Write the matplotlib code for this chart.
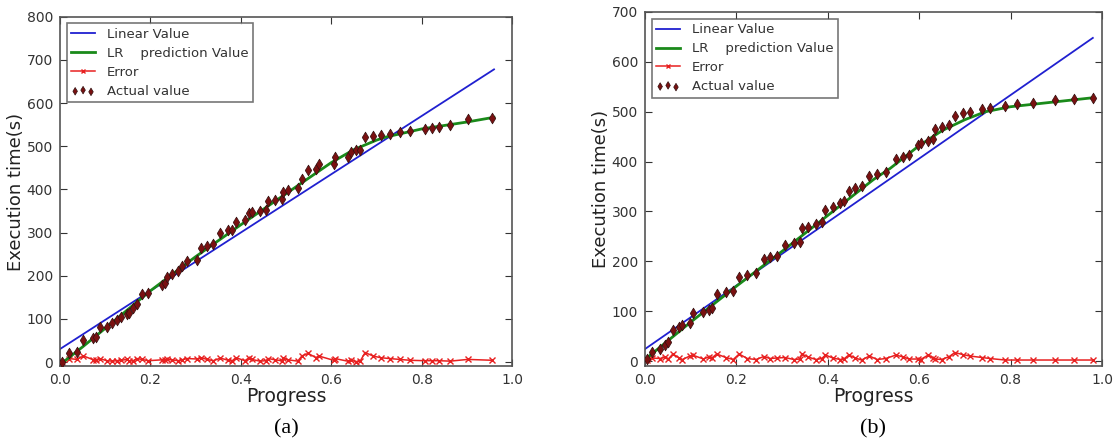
import matplotlib
matplotlib.use("Agg")
import matplotlib.pyplot as plt

# ---- panel (a) ----
a_lin_x = [0.0, 0.96]
a_lin_y = [30, 678]

a_lr_x = [0.01, 0.05, 0.10, 0.20, 0.30, 0.40, 0.50, 0.60, 0.65, 0.70, 0.72, 0.80, 0.90, 0.96]
a_lr_y = [2, 35, 78, 165, 244, 318, 390, 462, 492, 514, 521, 540, 556, 567]

a_act_x = [0.004, 0.020, 0.037, 0.052, 0.074, 0.080, 0.088, 0.103, 0.116, 0.125, 0.136,
           0.148, 0.153, 0.162, 0.170, 0.181, 0.195, 0.225, 0.232, 0.236, 0.247, 0.262,
           0.269, 0.282, 0.302, 0.313, 0.325, 0.339, 0.355, 0.372, 0.380, 0.389, 0.409,
           0.417, 0.424, 0.442, 0.455, 0.461, 0.476, 0.490, 0.493, 0.505, 0.526, 0.535,
           0.549, 0.566, 0.572, 0.605, 0.608, 0.636, 0.644, 0.655, 0.664, 0.675, 0.692,
           0.709, 0.729, 0.751, 0.774, 0.807, 0.822, 0.838, 0.863, 0.902, 0.956]
a_act_y = [1, 20, 24, 52, 55, 58, 80, 82, 91, 97, 105,
           112, 114, 124, 134, 157, 160, 178, 182, 197, 205, 211,
           222, 234, 236, 264, 269, 274, 299, 305, 305, 324, 328,
           345, 347, 351, 353, 373, 376, 378, 393, 399, 403, 424,
           445, 447, 459, 459, 476, 476, 487, 492, 492, 522, 524,
           526, 528, 532, 536, 540, 542, 545, 550, 563, 565]
a_err = [1, 8, 6, 14, 5, 4, 8, 3, 2, 3, 4,
         6, 2, 3, 8, 6, 3, 5, 4, 6, 5, 3,
         5, 8, 7, 10, 6, 3, 9, 4, 2, 10, 3,
         9, 6, 2, 3, 8, 5, 3, 9, 5, 2, 14,
         20, 10, 14, 4, 8, 2, 4, 1, 2, 22, 14,
         10, 8, 6, 4, 3, 3, 3, 2, 6, 4]

# ---- panel (b) ----
b_lin_x = [0.0, 0.98]
b_lin_y = [24, 648]

b_lr_x = [0.0, 0.10, 0.20, 0.30, 0.40, 0.50, 0.536, 0.60, 0.65, 0.70, 0.745, 0.80, 0.90, 0.98]
b_lr_y = [3, 78, 150, 220, 292, 364, 386, 432, 462, 484, 500, 510, 520, 528]

b_act_x = [0.004, 0.015, 0.033, 0.044, 0.051, 0.061, 0.075, 0.082, 0.098, 0.104, 0.128,
           0.139, 0.146, 0.157, 0.177, 0.193, 0.206, 0.224, 0.243, 0.260, 0.274, 0.288,
           0.306, 0.326, 0.339, 0.343, 0.357, 0.374, 0.387, 0.395, 0.411, 0.427, 0.435,
           0.446, 0.460, 0.474, 0.491, 0.508, 0.527, 0.549, 0.565, 0.578, 0.598, 0.603,
           0.620, 0.630, 0.635, 0.649, 0.666, 0.678, 0.695, 0.711, 0.738, 0.755, 0.788,
           0.813, 0.850, 0.897, 0.939, 0.981]
b_act_y = [5, 19, 25, 32, 39, 62, 69, 72, 77, 96, 99,
           102, 106, 134, 138, 141, 169, 172, 177, 204, 208, 211,
           233, 236, 239, 266, 269, 274, 279, 303, 308, 317, 321,
           341, 346, 350, 371, 375, 380, 405, 410, 413, 433, 437,
           442, 445, 465, 469, 473, 491, 497, 500, 505, 507, 511,
           515, 518, 523, 525, 528]
b_err = [2, 6, 5, 8, 4, 14, 6, 3, 10, 12, 4,
         8, 6, 14, 7, 3, 14, 5, 3, 9, 5, 6,
         7, 3, 4, 14, 8, 3, 5, 12, 6, 3, 4,
         12, 6, 2, 10, 3, 5, 12, 8, 4, 4, 3,
         12, 6, 4, 3, 9, 17, 13, 10, 7, 5, 2,
         2, 2, 2, 2, 2]

fig = plt.figure(figsize=(11.13, 4.47), dpi=100)
ax_a = fig.add_axes([0.0539, 0.1805, 0.4062, 0.7821])
ax_b = fig.add_axes([0.5795, 0.1812, 0.4106, 0.7920])

panels = [
    (ax_a, a_lin_x, a_lin_y, a_lr_x, a_lr_y, a_act_x, a_act_y, a_err, 800, "(a)"),
    (ax_b, b_lin_x, b_lin_y, b_lr_x, b_lr_y, b_act_x, b_act_y, b_err, 700, "(b)"),
]

for ax, lx, ly, gx, gy, px, py, err, ytop, tag in panels:
    ax.plot(lx, ly, color="#2020d0", lw=1.3, label="Linear Value", zorder=2)
    ax.plot(gx, gy, color="#1a8a1a", lw=2, label="LR    prediction Value", zorder=3)
    ax.plot(px, err, color="#e82020", lw=1.1, marker="x", ms=4, mew=1,
            label="Error", zorder=2)
    ax.scatter(px, py, marker="d", s=30, color="#7a1010", edgecolors="#301010",
               linewidths=0.5, label="Actual value", zorder=4)
    ax.set_xlim(0, 1.0)
    ax.set_ylim(-10, ytop)
    ax.set_xticks([0.0, 0.2, 0.4, 0.6, 0.8, 1.0])
    ax.set_xticklabels(["0.0", "0.2", "0.4", "0.6", "0.8", "1.0"])
    ax.tick_params(direction="in", top=True, right=True, length=5, width=0.8,
                   labelsize=10, colors="#333333", pad=5)
    for s in ax.spines.values():
        s.set_color("#555555")
        s.set_linewidth(1.2)
    ax.set_xlabel("Progress", fontsize=13.5, color="#222222", labelpad=0)
    ax.set_ylabel("Execution time(s)", fontsize=13, color="#222222", labelpad=1)
    leg = ax.legend(loc="upper left", fontsize=9.5, scatterpoints=3, frameon=True,
                    fancybox=False, borderaxespad=0.5, handlelength=1.8,
                    handletextpad=0.9, labelspacing=0.45, borderpad=0.35,
                    markerscale=0.7)
    leg.get_frame().set_edgecolor("#555555")
    leg.get_frame().set_linewidth(1.2)
    for t in leg.get_texts():
        t.set_color("#333333")
    bb = ax.get_position()
    fig.text((bb.x0 + bb.x1) / 2, 0.04, tag, ha="center", va="center",
             fontsize=16, family="Liberation Serif")

fig.savefig("out.png", dpi=100)
